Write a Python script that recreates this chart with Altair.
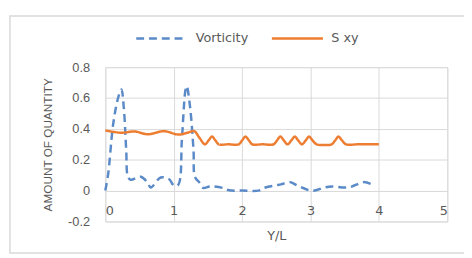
import altair as alt
import pandas as pd

series_names = ["Vorticity", "S xy"]
series_colors = ["#5B8AC8", "#ED7D31"]

vort_x = [0, 0.043, 0.115, 0.187, 0.235, 0.27, 0.306, 0.33, 0.37, 0.52, 0.62, 0.665, 0.81, 0.93, 1.01,
          1.07, 1.12, 1.17, 1.19, 1.24, 1.29, 1.31, 1.38, 1.43, 1.53, 1.72, 1.81, 2.0, 2.24, 2.34,
          2.49, 2.57, 2.70, 2.80, 2.96, 3.06, 3.20, 3.32, 3.49, 3.59, 3.78, 3.90]
vort_y = [0, 0.11, 0.43, 0.60, 0.655, 0.54, 0.26, 0.09, 0.07, 0.09, 0.05, 0.02, 0.085, 0.075, 0.03,
          0.04, 0.33, 0.645, 0.677, 0.54, 0.26, 0.09, 0.05, 0.017, 0.027, 0.017, 0.002, 0, 0, 0.02,
          0.034, 0.04, 0.055, 0.034, 0.005, 0, 0.02, 0.027, 0.02, 0.024, 0.055, 0.04]

sxy_x = [0, 0.23, 0.43, 0.62, 0.86, 1.07, 1.2, 1.3, 1.38, 1.455, 1.51, 1.56, 1.61, 1.66, 1.8,
         1.95, 2.0, 2.05, 2.10, 2.15, 2.3, 2.46, 2.51, 2.56, 2.61, 2.665, 2.72, 2.77, 2.82, 2.875,
         2.93, 2.98, 3.03, 3.09, 3.2, 3.31, 3.36, 3.41, 3.46, 3.52, 3.7, 4.0]
sxy_y = [0.39, 0.375, 0.383, 0.365, 0.385, 0.363, 0.375, 0.385, 0.34, 0.30, 0.325, 0.35, 0.325, 0.30, 0.30,
         0.30, 0.325, 0.35, 0.325, 0.30, 0.30, 0.30, 0.325, 0.35, 0.325, 0.30, 0.325, 0.35, 0.325, 0.30,
         0.325, 0.35, 0.325, 0.30, 0.295, 0.30, 0.325, 0.35, 0.325, 0.30, 0.30, 0.30]

x_ticks = [0, 1, 2, 3, 4, 5]
y_ticks = [-0.2, 0, 0.2, 0.4, 0.6, 0.8]

df = pd.concat([
    pd.DataFrame({"x": vort_x, "y": vort_y, "series": series_names[0]}),
    pd.DataFrame({"x": sxy_x, "y": sxy_y, "series": series_names[1]}),
])

FONT = "DejaVu Sans"
TXT = "#595959"

leg = alt.Legend(
    orient="none", legendX=30, legendY=-57, direction="horizontal", title=None,
    symbolType="stroke", symbolSize=2700, symbolStrokeWidth=2.5,
    labelFontSize=13, labelFont=FONT, labelColor=TXT, columnPadding=18, labelOffset=7,
)

lines = alt.Chart(df).mark_line(interpolate="catmull-rom", strokeWidth=2.5).encode(
    x=alt.X("x:Q", scale=alt.Scale(domain=[0, 5], nice=False, zero=False),
            axis=alt.Axis(values=x_ticks, title="Y/L", offset=-31, ticks=False,
                          domainColor="#D9D9D9", labelPadding=14, titlePadding=12,
                          labelFontSize=13, titleFontSize=13, labelFont=FONT, titleFont=FONT,
                          labelColor=TXT, titleColor=TXT, titleFontWeight="normal",
                          gridColor="#D9D9D9")),
    y=alt.Y("y:Q", scale=alt.Scale(domain=[-0.2, 0.8], nice=False),
            axis=alt.Axis(values=y_ticks, title="AMOUNT OF QUANTITY", ticks=False, domain=False,
                          labelExpr="'' + datum.value", labelPadding=16, titlePadding=13,
                          labelFontSize=13, titleFontSize=12, labelFont="Liberation Sans",
                          titleFont="Liberation Sans",
                          labelColor=TXT, titleColor=TXT, titleFontWeight="normal",
                          gridColor="#D9D9D9")),
    color=alt.Color("series:N", scale=alt.Scale(domain=series_names, range=series_colors), legend=leg),
    strokeDash=alt.StrokeDash("series:N", scale=alt.Scale(domain=series_names, range=[[8, 5], [1, 0]]),
                              legend=leg),
)

frame = alt.Chart(pd.DataFrame({"a": [0]})).mark_rect(
    fillOpacity=0, stroke="#D9D9D9", strokeWidth=1.5
).encode(x=alt.value(-97), x2=alt.value(380), y=alt.value(-52), y2=alt.value(189))

chart = alt.layer(frame, lines).properties(
    width=348, height=157,
    autosize=alt.AutoSizeParams(type="none"),
    padding={"left": 99, "top": 58, "right": 17, "bottom": 35},
).configure_view(stroke=None).configure(background="white")

chart.save("out.html", embed_options={"renderer": "svg", "actions": False})
